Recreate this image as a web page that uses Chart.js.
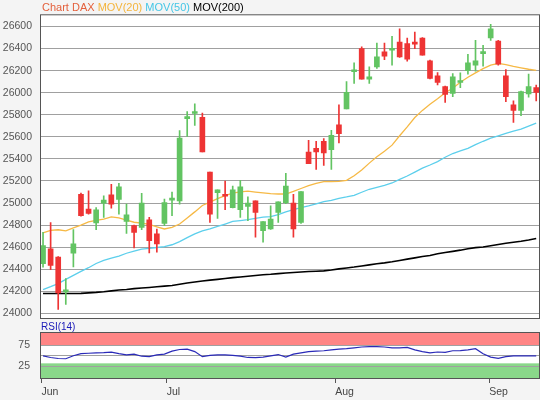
<!DOCTYPE html>
<html>
<head>
<meta charset="utf-8">
<script src="https://cdn.jsdelivr.net/npm/chart.js@4.4.1/dist/chart.umd.min.js"></script>
<style>
    html, body { margin: 0; padding: 0; background: #f4f4f4; }
    #wrap { position: relative; width: 540px; height: 400px; overflow: hidden; background: #f4f4f4; }
    #wrap canvas { position: absolute; left: 0; top: 0; }
    .caption { position: absolute; white-space: nowrap; font-family: 'Liberation Sans', Arial, sans-serif; }
    #main-title { left: 42px; top: 1px; font-size: 11px; line-height: 12px; }
    #rsi-title { left: 41px; top: 321px; font-size: 10px; line-height: 11px; color: #1a1ab8; }
</style>
</head>
<body>
<div id="wrap">
    <canvas id="main-chart" width="540" height="400"></canvas>
    <canvas id="rsi-chart" width="540" height="400"></canvas>
    <div id="main-title" class="caption"><span style="color:#e4603c">Chart DAX</span> <span style="color:#f4b43c">MOV(20)</span> <span style="color:#45c6e6">MOV(50)</span> <span style="color:#000">MOV(200)</span></div>
    <div id="rsi-title" class="caption">RSI(14)</div>
</div>
<script>
// --- DATA ---
const opens = [24450,24585,24510,24195,24545,25080,24945,24819,24999,25074,25032,24834,24795,24779,24849,24720,24815,25026,25020,25764,25812,25776,25281,25095,25074,24959,24939,24969,25020,24750,24765,24915,25004,24999,24825,25461,25497,25560,25485,25710,25854,26190,26400,26124,26235,26370,26385,26460,26445,26450,26496,26289,26154,26055,25994,26093,26199,26250,26355,26496,26469,26154,25890,25839,25989,26046];
const highs = [24734,24824,24515,24315,24759,25090,25110,24960,25065,25170,25179,24990,24800,25089,24870,24765,25035,25100,25656,25830,25899,25815,25281,25119,25200,25155,25206,25056,25020,24831,24975,25011,25269,25080,25104,25569,25560,25584,25659,25890,26100,26271,26415,26235,26451,26451,26511,26580,26496,26550,26500,26295,26183,26060,26174,26181,26349,26475,26430,26619,26475,26211,25926,26015,26169,26070];
const lows = [24419,24396,24036,24081,24420,24880,24900,24759,24870,24954,24900,24725,24594,24759,24549,24555,24795,24885,24990,25605,25704,25464,24825,24860,24939,24955,24870,24840,24690,24645,24760,24825,24995,24690,24815,25356,25305,25341,25305,25545,25854,26084,26123,26084,26220,26300,26250,26320,26286,26400,26340,26125,26070,25913,25965,26046,26169,26196,26241,26475,26250,25920,25731,25791,25959,25926];
const closes = [24615,24435,24185,24210,24630,24885,24905,24939,25026,24990,25146,24894,24734,24999,24660,24630,25004,25044,25590,25785,25825,25464,24900,25119,25062,25119,25146,24999,24915,24831,24855,25011,25155,24765,25104,25356,25464,25455,25614,25629,26003,26205,26123,26145,26325,26331,26400,26325,26304,26440,26340,26130,26093,25985,26145,26106,26271,26289,26370,26580,26259,25965,25839,26010,26055,26003];

const mov20 = [24729,24752,24758,24748,24775,24800,24830,24843,24855,24875,24866,24845,24826,24818,24806,24785,24765,24780,24810,24865,24920,24978,25008,25040,25068,25090,25102,25108,25100,25092,25085,25082,25082,25105,25132,25157,25178,25195,25194,25196,25206,25248,25300,25362,25420,25470,25525,25610,25690,25775,25840,25895,25945,26000,26040,26095,26140,26180,26218,26250,26266,26255,26238,26225,26213,26203];
const mov50 = [24216,24242,24270,24308,24345,24380,24414,24452,24480,24500,24520,24545,24565,24582,24590,24597,24605,24622,24650,24686,24720,24748,24766,24788,24810,24833,24841,24850,24862,24872,24877,24896,24920,24940,24958,24974,24993,25012,25025,25042,25055,25070,25098,25125,25142,25160,25182,25215,25245,25280,25316,25345,25376,25415,25449,25472,25496,25530,25560,25588,25610,25632,25652,25670,25698,25724];
const mov200 = [24180,24180,24180,24180,24180,24181,24186,24190,24196,24204,24212,24217,24224,24230,24235,24241,24247,24252,24264,24276,24285,24293,24301,24308,24316,24324,24330,24337,24343,24350,24354,24360,24366,24371,24375,24379,24382,24385,24393,24403,24412,24420,24430,24440,24450,24458,24468,24480,24492,24503,24515,24525,24540,24552,24562,24573,24586,24596,24602,24613,24625,24636,24645,24654,24665,24678];
const rsi14 = [50,46,43.5,43,50,55,56,57,57.5,58.5,55,52,54,49,48,52,54,61,65,66,60,48,51,52,52,51,49,46,45.5,47,50,53,47,54,57,60,61,62,64,66,67,69,71,72,72,71,69,69,70,64,60,57,59,58,62,62.5,64,67,55,47,44,48,50,50,50,50];

const priceTicks = [24000,24200,24400,24600,24800,25000,25200,25400,25600,25800,26000,26200,26400,26600];
const rsiTicks = [25, 50, 75];
const rsiUpper = 75;  // overbought band starts here
const rsiLower = 32;  // oversold band ends here
const monthTicks = [-0.2, 16.3, 38.5, 58.8];
const monthLabels = ['Jun', 'Jul', 'Aug', 'Sep'];

// --- STYLE ---
const FONT = "'Liberation Sans', Arial, sans-serif";
const UP_COLOR = '#62c462';
const DOWN_COLOR = '#ee3434';
const GRID_COLOR = '#a0a0a0';
const FRAME_COLOR = '#555555';
const X_MIN = -0.4;
const X_MAX = 65.5;

// --- HELPER FUNCTIONS ---
function toPoints(values) {
    return values.map((v, i) => ({ x: i, y: v }));
}

function candleColors() {
    return closes.map((c, i) => (c >= opens[i] ? UP_COLOR : DOWN_COLOR));
}

function fixedWidth(scale) {
    scale.width = 40;
}

// white plot area (+ RSI bands) and a dark frame around it
const plotFrame = {
    id: 'plotFrame',
    beforeDraw(chart) {
        const { ctx, chartArea: a } = chart;
        ctx.save();
        ctx.fillStyle = '#ffffff';
        ctx.fillRect(a.left, a.top, a.right - a.left, a.bottom - a.top);
        const opts = chart.options.plugins.plotFrame;
        if (opts && opts.rsi) {
            const y = chart.scales.y;
            const yUp = y.getPixelForValue(rsiUpper);
            const yLow = y.getPixelForValue(rsiLower);
            ctx.fillStyle = '#ff8585';
            ctx.fillRect(a.left, a.top, a.right - a.left, yUp - a.top);
            ctx.fillStyle = '#8ad88a';
            ctx.fillRect(a.left, yLow, a.right - a.left, a.bottom - yLow);
        }
        ctx.restore();
    },
    afterDraw(chart) {
        const { ctx, chartArea: a } = chart;
        ctx.save();
        ctx.strokeStyle = FRAME_COLOR;
        ctx.lineWidth = 1;
        ctx.strokeRect(a.left + 0.5, a.top + 0.5, a.right - a.left - 1, a.bottom - a.top - 1);
        ctx.restore();
    }
};

// --- PRICE CHART ---
const colors = candleColors();

new Chart(document.getElementById('main-chart'), {
    type: 'bar',
    data: {
        datasets: [
            {
                label: 'wicks',
                data: lows.map((l, i) => ({ x: i, y: [l, highs[i]] })),
                backgroundColor: colors,
                barThickness: 1,
                grouped: false,
                order: 1
            },
            {
                label: 'bodies',
                data: opens.map((o, i) => ({ x: i, y: [o, closes[i]] })),
                backgroundColor: colors,
                barThickness: 5,
                minBarLength: 2,
                grouped: false,
                order: 0
            },
            { type: 'line', label: 'MOV(200)', data: toPoints(mov200), borderColor: '#000000', borderWidth: 1.6, pointRadius: 0, order: 2 },
            { type: 'line', label: 'MOV(50)', data: toPoints(mov50), borderColor: '#5ccfec', borderWidth: 1.3, pointRadius: 0, order: 2 },
            { type: 'line', label: 'MOV(20)', data: toPoints(mov20), borderColor: '#f6b945', borderWidth: 1.3, pointRadius: 0, order: 2 }
        ]
    },
    options: {
        responsive: false,
        animation: false,
        events: [],
        layout: { padding: { top: 12, right: 0, bottom: 81, left: 0 } },
        plugins: {
            legend: { display: false },
            tooltip: { enabled: false },
            plotFrame: { rsi: false }
        },
        scales: {
            x: { type: 'linear', min: X_MIN, max: X_MAX, offset: false, display: false },
            y: {
                min: 23949,
                max: 26711,
                afterFit: fixedWidth,
                afterBuildTicks: scale => { scale.ticks = priceTicks.map(v => ({ value: v })); },
                grid: { color: GRID_COLOR, drawTicks: false },
                border: { display: false },
                ticks: {
                    color: '#555555',
                    padding: 8,
                    font: { family: FONT, size: 10.5 },
                    callback: value => String(value)
                }
            }
        }
    },
    plugins: [plotFrame]
});

// --- RSI CHART ---
new Chart(document.getElementById('rsi-chart'), {
    type: 'line',
    data: {
        datasets: [{
            label: 'RSI(14)',
            data: toPoints(rsi14),
            borderColor: '#2a2ab8',
            borderWidth: 1.2,
            pointRadius: 0
        }]
    },
    options: {
        responsive: false,
        animation: false,
        events: [],
        layout: { padding: { top: 332, right: 0, bottom: 0, left: 0 } },
        plugins: {
            legend: { display: false },
            tooltip: { enabled: false },
            plotFrame: { rsi: true }
        },
        scales: {
            x: {
                type: 'linear',
                min: X_MIN,
                max: X_MAX,
                offset: false,
                afterFit: scale => { scale.height = 21; },
                afterBuildTicks: scale => { scale.ticks = monthTicks.map(v => ({ value: v })); },
                grid: { drawOnChartArea: false, drawTicks: true, tickLength: 4, color: FRAME_COLOR },
                border: { display: false },
                ticks: {
                    autoSkip: false,
                    maxRotation: 0,
                    align: 'start',
                    padding: 3,
                    color: '#444444',
                    font: { family: FONT, size: 10.5 },
                    callback: (value, index) => monthLabels[index]
                }
            },
            y: {
                min: -5.3,
                max: 106.7,
                afterFit: fixedWidth,
                afterBuildTicks: scale => { scale.ticks = rsiTicks.map(v => ({ value: v })); },
                grid: { color: GRID_COLOR, drawTicks: false },
                border: { display: false },
                ticks: {
                    color: '#555555',
                    padding: 10,
                    font: { family: FONT, size: 10.5 },
                    callback: value => (value === 50 ? '' : String(value))
                }
            }
        }
    },
    plugins: [plotFrame]
});
</script>
</body>
</html>
